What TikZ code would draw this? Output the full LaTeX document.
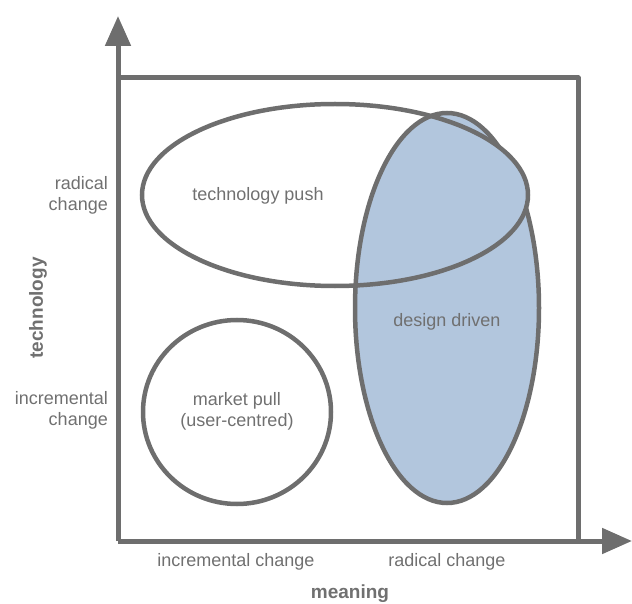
\documentclass[tikz,border=0pt]{standalone}
\usepackage{fontspec}
\setmainfont{Liberation Sans}
\usetikzlibrary{arrows.meta,shapes.geometric}
\definecolor{linegrey}{HTML}{6E6E6E}
\definecolor{textgrey}{HTML}{707070}
\definecolor{ddblue}{HTML}{B2C6DD}
\begin{document}
\begin{tikzpicture}[x=1pt,y=-1pt,
  lbl/.style={text=textgrey,font=\fontsize{18}{21}\selectfont,inner sep=0pt,align=center},
  axlbl/.style={text=textgrey,font=\fontsize{19}{22}\selectfont\bfseries,inner sep=0pt},
  shapeline/.style={draw=linegrey,line width=4.5pt},
  axisline/.style={draw=linegrey,line width=5pt},
  tip/.style={-{Triangle[length=30pt,width=25pt]}}]
\useasboundingbox (0,0) rectangle (632,604);
% axes and frame
\coordinate (origin) at (118,541);
\coordinate (ytip) at (118,16);
\coordinate (xtip) at (632,541);
\coordinate (tl) at (118,78);
\coordinate (tr) at (578,78);
\coordinate (br) at (578,541);
\draw[axisline,line join=round] (tl) -- (tr) -- (br);
\draw[axisline,tip] (origin) -- (ytip);
\draw[axisline,tip] (origin) -- (xtip);
% design driven ellipse
\node[ellipse,shapeline,fill=ddblue,minimum width=184pt,minimum height=390pt,inner sep=0pt] (dd) at (447,308) {};
% blue fill of the right end of the technology push ellipse
\begin{scope}
  \clip (447,0) rectangle (632,300);
  \fill[ddblue] (335,195) ellipse [x radius=193, y radius=91];
\end{scope}
% technology push ellipse
\node[ellipse,shapeline,minimum width=386pt,minimum height=182pt,inner sep=0pt] (tp) at (335,195) {};
% market pull circle
\node[ellipse,shapeline,minimum width=188pt,minimum height=184pt,inner sep=0pt] (mp) at (237,412) {};
% texts
\node[lbl] (tptext) at (258,196) {technology push};
\node[lbl] (ddtext) at (447,322) {design driven};
\node[lbl] (mptext) at (237,411) {market pull\\(user-centred)};
\node[lbl,align=right,anchor=east] (yrad) at (108,195) {radical\\change};
\node[lbl,align=right,anchor=east] (yinc) at (108,410) {incremental\\change};
\node[lbl] (xinc) at (236,562) {incremental change};
\node[lbl] (xrad) at (447,562) {radical change};
\node[axlbl] (xname) at (350,594) {meaning};
\node[axlbl,rotate=90] (yname) at (38,308) {technology};
\end{tikzpicture}
\end{document}
